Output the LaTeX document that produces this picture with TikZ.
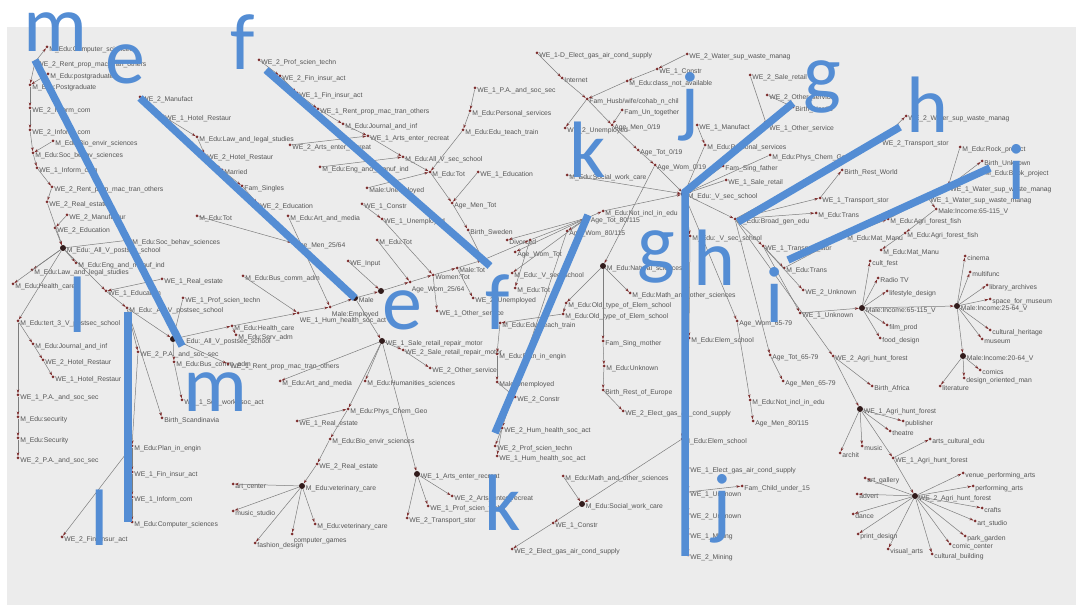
\documentclass[tikz,border=0pt]{standalone}
\usepackage{fontspec}
\setmainfont{Liberation Sans}
\newfontfamily\lettfont{Carlito}
\usetikzlibrary{arrows.meta, positioning}
\definecolor{bggray}{RGB}{236,236,236}
\definecolor{edgegray}{RGB}{125,125,125}
\definecolor{dotred}{RGB}{125,45,45}
\definecolor{hubdark}{RGB}{50,28,28}
\definecolor{labelgray}{RGB}{85,85,85}
\definecolor{markblue}{RGB}{84,141,212}
\begin{document}
\catcode`\_=12
\begin{tikzpicture}[x=1pt, y=-1pt,
  dot/.style={circle, fill=dotred, inner sep=0pt, minimum size=3pt},
  hub/.style={circle, fill=hubdark, inner sep=0pt, minimum size=6pt},
  lbl/.style={font=\fontsize{6.8}{8}\selectfont, text=labelgray, inner sep=0.5pt, yshift=-2.5pt},
  nd/.style={dot, label={[lbl]right:#1}},
  ndb/.style={dot, label={[lbl, anchor=north west]south east:#1}},
  hb/.style={hub, label={[lbl]right:#1}},
  edge/.style={draw=edgegray, line width=0.5pt, -{Stealth[length=4pt, width=2.6pt, color=dotred]}},
  stroke/.style={draw=markblue, line width=7.5pt},
  letter/.style={font=\lettfont\fontsize{80}{80}\selectfont, text=markblue, inner sep=0pt, anchor=base}
]
\useasboundingbox (0,0) rectangle (1080,609);
\fill[white] (0,0) rectangle (1080,609);
\fill[bggray] (7,27) rectangle (1076,605);

% left column
\node[nd={M_Edu:Computer_sciences}] (a1) at (47,47) {};
\node[nd={WE_2_Rent_prop_mac_tran_others}] (a2) at (35,62) {};
\node[nd={M_Edu:postgraduate}] (a3) at (48,74) {};
\node[nd={M_Edu:Postgraduate}] (a4) at (30,85) {};
\node[nd={WE_2_Inform_com}] (a5) at (30,108) {};
\node[nd={WE_2_Inform_com}] (a6) at (30,130) {};
\node[nd={M_Edu:Bio_envir_sciences}] (a7) at (53,141) {};
\node[nd={M_Edu:Soc_behav_sciences}] (a8) at (33,153) {};
\node[nd={WE_1_Inform_com}] (a9) at (37,168) {};
\node[nd={WE_2_Rent_prop_mac_tran_others}] (a10) at (52,187) {};
\node[nd={WE_2_Real_estate}] (a11) at (47,202) {};
\node[nd={WE_2_Manufactur}] (a12) at (67,215) {};
\node[nd={WE_2_Education}] (a13) at (55,228) {};
\node[hb={M_Edu:_All_V_postsec_school}] (h1) at (63,248) {};
\node[nd={M_Edu:Soc_behav_sciences}] (a14) at (130,240) {};
\node[nd={M_Edu:Eng_and_manuf_ind}] (a15) at (76,263) {};
\node[nd={M_Edu:Law_and_legal_studies}] (a16) at (32,270) {};
\node[nd={M_Edu:Health_care}] (a17) at (13,284) {};
\node[nd={M_Edu:tert_3_V_postsec_school}] (a18) at (18,321) {};
\node[nd={WE_1_Education}] (a19) at (106,291) {};
\node[nd={M_Edu:_All_V_postsec_school}] (a20) at (127,308) {};
\node[nd={WE_1_Real_estate}] (a21) at (162,279) {};
\node[nd={WE_1_Prof_scien_techn}] (a22) at (183,298) {};
\node[hb={M_Edu:_All_V_postsec_school}] (h2) at (173,339) {};
\node[nd={WE_2_P.A._and_soc_sec}] (a23) at (138,352) {};
\node[nd={M_Edu:Journal_and_inf}] (a30) at (33,344) {};
\node[nd={WE_2_Hotel_Restaur}] (a31) at (43,360) {};
\node[nd={WE_1_Hotel_Restaur}] (a32) at (53,377) {};
\node[nd={WE_1_P.A._and_soc_sec}] (a33) at (18,395) {};
\node[nd={M_Edu:security}] (a34) at (18,417) {};
\node[nd={M_Edu:Security}] (a35) at (18,438) {};
\node[nd={WE_2_P.A._and_soc_sec}] (a36) at (18,458) {};
\node[nd={M_Edu:Plan_in_engin}] (a24) at (132,446) {};
\node[nd={WE_1_Fin_insur_act}] (a25) at (132,472) {};
\node[nd={WE_1_Inform_com}] (a26) at (132,497) {};
\node[nd={M_Edu:Computer_sciences}] (a27) at (132,522) {};
\node[nd={WE_2_Fin_insur_act}] (a28) at (62,537) {};
\node[nd={Birth_Scandinavia}] (a29) at (162,418) {};
\node[nd={M_Edu:Bus_comm_adm}] (a37) at (174,362) {};
\node[nd={WE_1_Soc_work_soc_act}] (a38) at (182,400) {};
\node[nd={WE_1_Rent_prop_mac_tran_others}] (a39) at (228,364) {};

% e and f chains
\node[nd={WE_2_Manufact}] (e1) at (140,97) {};
\node[nd={WE_1_Hotel_Restaur}] (e2) at (163,116) {};
\node[nd={M_Edu:Law_and_legal_studies}] (e3) at (197,137) {};
\node[nd={WE_2_Hotel_Restaur}] (e4) at (205,155) {};
\node[nd={Married}] (e5) at (222,170) {};
\node[nd={Fam_Singles}] (e6) at (242,186) {};
\node[nd={WE_2_Education}] (e7) at (258,204) {};
\node[nd={M_Edu:Art_and_media}] (e8) at (288,216) {};
\node[nd={Age_Men_25/64}] (e9) at (293,243) {};
\node[nd={M_Edu:Tot}] (e10) at (197,216) {};
\node[nd={M_Edu:Bus_comm_adm}] (e11) at (243,276) {};
\node[nd={WE_2_Prof_scien_techn}] (f1) at (259,60) {};
\node[nd={WE_2_Fin_insur_act}] (f2) at (280,76) {};
\node[nd={WE_1_Fin_insur_act}] (f3) at (297,93) {};
\node[nd={WE_1_Rent_prop_mac_tran_others}] (f4) at (318,109) {};
\node[nd={M_Edu:Journal_and_inf}] (f5) at (343,124) {};
\node[nd={WE_1_Arts_enter_recreat}] (f6) at (368,136) {};
\node[nd={M_Edu:All_V_sec_school}] (f7) at (403,157) {};
\node[nd={M_Edu:Tot}] (f8) at (430,172) {};
\node[nd={Age_Men_Tot}] (f9) at (452,203) {};
\node[nd={Birth_Sweden}] (f10) at (468,230) {};
\node[nd={WE_2_Arts_enter_recreat}] (f11) at (290,145) {};
\node[nd={M_Edu:Eng_and_manuf_ind}] (f12) at (320,167) {};
\node[nd={Male:Unemployed}] (f13) at (367,188) {};
\node[nd={WE_1_Education}] (f14) at (478,172) {};
\node[nd={WE_1_P.A._and_soc_sec}] (f15) at (475,88) {};
\node[nd={M_Edu:Personal_services}] (f16) at (470,111) {};
\node[nd={M_Edu:Edu_teach_train}] (f17) at (463,130) {};
\node[nd={WE_1_Constr}] (f18) at (362,204) {};
\node[nd={WE_1_Unemployed}] (f19) at (382,219) {};
\node[nd={M_Edu:Tot}] (f20) at (377,240) {};
\node[nd={WE_Input}] (f21) at (348,261) {};

% backbone
\node[nd={M_Edu:Health_care}] (s1) at (232,326) {};
\node[nd={M_Edu:Serv_adm}] (s2) at (236,335) {};
\node[ndb={WE_1_Hum_health_soc_act}] (b1) at (298,313) {};
\node[ndb={Male:Employed}] (b2) at (330,307) {};
\node[hb={Male}] (b3) at (355,298) {};
\node[hub] (b4) at (381,291) {};
\node[ndb={Age_Wom_25/64}] (b5) at (410,282) {};
\node[nd={Women:Tot}] (b6) at (433,275) {};
\node[nd={Male:Tot}] (b7) at (457,268) {};
\node[dot] (b8) at (483,260) {};
\node[dot] (b9) at (530,240) {};
\node[hb={Age_Tot_80/115}] (b11) at (587,218) {};
\node[nd={M_Edu:Not_incl_in_edu}] (b12) at (603,211) {};
\node[hb={M_Edu:_V_sec_school}] (ctr) at (684,194) {};
\node[nd={Divorced}] (d1) at (507,240) {};
\node[nd={Age_Wom_Tot}] (d2) at (515,252) {};
\node[nd={M_Edu:_V_sec_school}] (d4) at (512,273) {};
\node[nd={M_Edu:Tot}] (d5) at (515,288) {};
\node[nd={WE_2_Unemployed}] (d6) at (473,298) {};
\node[nd={WE_1_Other_service}] (d7) at (437,311) {};
\node[nd={Age_Wom_80/115}] (d9) at (567,231) {};

% lower middle
\node[hb={WE_1_Sale_retail_repair_motor}] (hs) at (382,341) {};
\node[nd={WE_2_Sale_retail_repair_motor}] (s3) at (403,350) {};
\node[nd={WE_2_Other_service}] (s4) at (430,368) {};
\node[nd={M_Edu:Humanities_sciences}] (s5) at (365,381) {};
\node[nd={M_Edu:Art_and_media}] (s6) at (280,381) {};
\node[nd={M_Edu:Phys_Chem_Geo}] (v1) at (348,409) {};
\node[nd={WE_1_Real_estate}] (v2) at (297,421) {};
\node[nd={M_Edu:Bio_envir_sciences}] (v3) at (330,439) {};
\node[nd={WE_2_Real_estate}] (v4) at (317,464) {};
\node[hb={M_Edu:veterinary_care}] (hv) at (302,486) {};
\node[nd={art_center}] (v5) at (233,484) {};
\node[nd={music_studio}] (v6) at (233,511) {};
\node[nd={fashion_design}] (v7) at (255,543) {};
\node[ndb={computer_games}] (v8) at (292,534) {};
\node[nd={M_Edu:veterinary_care}] (v9) at (315,524) {};
\node[hb={WE_1_Arts_enter_recreat}] (ha) at (417,474) {};
\node[nd={WE_2_Arts_enter_recreat}] (v10) at (452,496) {};
\node[nd={WE_1_Prof_scien_techn}] (v11) at (428,506) {};
\node[nd={WE_2_Transport_stor}] (v12) at (407,518) {};

% k and g
\node[nd={M_Edu:Edu_teach_train}] (k2) at (500,323) {};
\node[nd={M_Edu:Plan_in_engin}] (k3) at (497,354) {};
\node[nd={Male:Unemployed}] (k4) at (497,382) {};
\node[nd={WE_2_Constr}] (k5) at (515,397) {};
\node[nd={WE_2_Hum_health_soc_act}] (k6) at (502,428) {};
\node[nd={WE_2_Prof_scien_techn}] (k7) at (495,446) {};
\node[nd={WE_1_Hum_health_soc_act}] (k8) at (497,456) {};
\node[hb={M_Edu:Natural_sciences}] (g1) at (603,266) {};
\node[nd={M_Edu:Old_type_of_Elem_school}] (g2) at (566,303) {};
\node[nd={M_Edu:Old_type_of_Elem_school}] (g3) at (563,314) {};
\node[nd={M_Edu:Math_and_other_sciences}] (g4) at (630,293) {};
\node[nd={Fam_Sing_mother}] (g5) at (603,341) {};
\node[nd={M_Edu:Unknown}] (g6) at (604,366) {};
\node[nd={Birth_Rest_of_Europe}] (g7) at (603,390) {};

% bottom middle
\node[nd={WE_2_Elect_gas_air_cond_supply}] (m1) at (623,411) {};
\node[nd={M_Edu:Elem_school}] (m2) at (682,439) {};
\node[hb={M_Edu:Social_work_care}] (m3) at (582,504) {};
\node[nd={M_Edu:Math_and_other_sciences}] (m4) at (563,476) {};
\node[nd={WE_1_Constr}] (m5) at (553,523) {};
\node[nd={WE_2_Elect_gas_air_cond_supply}] (m6) at (512,549) {};
\node[nd={M_Edu:_V_sec_school}] (j1) at (690,236) {};
\node[nd={M_Edu:Elem_school}] (j2) at (689,338) {};
\node[nd={WE_1_Elect_gas_air_cond_supply}] (j3) at (688,468) {};
\node[nd={WE_1_Unknown}] (j4) at (688,492) {};
\node[nd={WE_2_Unknown}] (j5) at (688,514) {};
\node[nd={WE_1_Mining}] (j6) at (688,534) {};
\node[nd={WE_2_Mining}] (j7) at (688,555) {};
\node[nd={Fam_Child_under_15}] (j8) at (742,486) {};

% top middle
\node[nd={WE_1-D_Elect_gas_air_cond_supply}] (c1) at (537,53) {};
\node[nd={Internet}] (c2) at (562,78) {};
\node[nd={Fam_Husb/wife/cohab_n_chil}] (c3) at (587,99) {};
\node[nd={Fam_Un_together}] (c4) at (622,110) {};
\node[nd={Age_Men_0/19}] (c5) at (612,125) {};
\node[nd={Age_Tot_0/19}] (c6) at (638,150) {};
\node[nd={Age_Wom_0/19}] (c7) at (655,165) {};
\node[nd={WE_2_Water_sup_waste_manag}] (c8) at (687,54) {};
\node[nd={WE_1_Constr}] (c9) at (657,69) {};
\node[nd={M_Edu:class_not_available}] (c10) at (627,81) {};
\node[nd={WE_2_Unemployed}] (c11) at (565,128) {};
\node[nd={M_Edu:Social_work_care}] (c12) at (567,175) {};
\node[nd={WE_1_Manufact}] (c13) at (697,125) {};
\node[nd={M_Edu:Personal_services}] (c14) at (705,145) {};
\node[nd={Fam_Sing_father}] (c15) at (723,166) {};
\node[nd={M_Edu:Phys_Chem_Geo}] (c16) at (770,155) {};
\node[nd={WE_1_Sale_retail}] (c17) at (726,180) {};
\node[nd={WE_2_Sale_retail}] (gA) at (750,75) {};
\node[nd={WE_2_Other_service}] (gB) at (767,95) {};
\node[nd={Birth_Nordic}] (gC) at (793,107) {};
\node[nd={WE_1_Other_service}] (gD) at (767,126) {};

% right
\node[nd={M_Edu:Broad_gen_edu}] (x1) at (735,219) {};
\node[nd={WE_1_Transport_stor}] (x2) at (763,246) {};
\node[nd={M_Edu:Trans}] (x3) at (784,268) {};
\node[nd={WE_2_Water_sup_waste_manag}] (t1) at (906,116) {};
\node[nd={WE_2_Transport_stor}] (t2) at (880,141) {};
\node[nd={Birth_Rest_World}] (t3) at (842,170) {};
\node[nd={WE_1_Transport_stor}] (t4) at (820,198) {};
\node[nd={M_Edu:Rock_project}] (i2) at (960,147) {};
\node[nd={Birth_Unknown}] (iA) at (982,161) {};
\node[nd={M_Edu:Book_project}] (iB) at (983,171) {};
\node[nd={WE_1_Water_sup_waste_manag}] (iC) at (948,187) {};
\node[nd={WE_1_Water_sup_waste_manag}] (iD) at (928,198) {};
\node[nd={Male:Income:65-115_V}] (iE) at (936,209) {};
\node[nd={M_Edu:Agri_forest_fish}] (iF) at (888,219) {};
\node[nd={M_Edu:Agri_forest_fish}] (iG) at (905,233) {};
\node[nd={M_Edu:Mat_Manu}] (iH) at (845,236) {};
\node[nd={M_Edu:Mat_Manu}] (iI) at (881,250) {};
\node[nd={M_Edu:Trans}] (iJ) at (816,213) {};
\node[nd={Age_Wom_65-79}] (r1) at (737,321) {};
\node[nd={Age_Tot_65-79}] (r2) at (770,355) {};
\node[nd={Age_Men_65-79}] (r3) at (783,381) {};
\node[nd={M_Edu:Not_incl_in_edu}] (r4) at (750,400) {};
\node[nd={Age_Men_80/115}] (r5) at (753,421) {};
\node[nd={WE_2_Unknown}] (u6) at (803,290) {};
\node[nd={WE_1_Unknown}] (u7) at (800,313) {};
\node[hb={Male:Income:65-115_V}] (u0) at (862,308) {};
\node[nd={cult_fest}] (u1) at (870,261) {};
\node[nd={Radio TV}] (u2) at (878,278) {};
\node[nd={lifestyle_design}] (u3) at (887,291) {};
\node[nd={film_prod}] (u4) at (887,325) {};
\node[nd={food_design}] (u5) at (880,338) {};
\node[hb={Male:Income:25-64_V}] (u8) at (957,306) {};
\node[nd={cinema}] (u9) at (965,256) {};
\node[nd={multifunc}] (u10) at (970,272) {};
\node[nd={library_archives}] (u11) at (987,285) {};
\node[nd={space_for_museum}] (u12) at (990,299) {};
\node[nd={cultural_heritage}] (u13) at (990,330) {};
\node[nd={museum}] (u14) at (982,339) {};
\node[hb={Male:Income:20-64_V}] (u15) at (963,356) {};
\node[nd={comics}] (u16) at (980,370) {};
\node[nd={design_oriented_man}] (u17) at (964,378) {};
\node[nd={literature}] (u18) at (940,386) {};
\node[nd={WE_2_Agri_hunt_forest}] (u19) at (833,356) {};
\node[nd={Birth_Africa}] (u20) at (872,386) {};
\node[hb={WE_1_Agri_hunt_forest}] (w1) at (860,409) {};
\node[nd={publisher}] (w2) at (903,421) {};
\node[nd={theatre}] (w3) at (890,431) {};
\node[nd={arts_cultural_edu}] (w4) at (930,439) {};
\node[nd={music}] (w5) at (862,446) {};
\node[nd={archit}] (w6) at (840,453) {};
\node[nd={WE_1_Agri_hunt_forest}] (w7) at (893,458) {};
\node[hb={WE_2_Agri_hunt_forest}] (w0) at (915,496) {};
\node[nd={art_gallery}] (w8) at (865,478) {};
\node[nd={venue_performing_arts}] (w9) at (963,473) {};
\node[nd={performing_arts}] (w10) at (973,486) {};
\node[nd={crafts}] (w11) at (982,508) {};
\node[nd={art_studio}] (w12) at (975,521) {};
\node[nd={park_garden}] (w13) at (965,536) {};
\node[nd={comic_center}] (w14) at (950,544) {};
\node[nd={cultural_building}] (w15) at (932,554) {};
\node[nd={visual_arts}] (w16) at (888,549) {};
\node[nd={print_design}] (w17) at (858,534) {};
\node[nd={dance}] (w18) at (853,514) {};
\node[nd={advert}] (w19) at (857,494) {};

% connectors
\draw[edge] (a2) -- (a1);
\draw[edge] (a2) -- (a4);
\draw[edge] (a3) -- (a4);
\draw[edge] (a4) -- (a5);
\draw[edge] (a5) -- (a6);
\draw[edge] (a6) -- (a8);
\draw[edge] (a7) -- (a8);
\draw[edge] (a8) -- (a9);
\draw[edge] (a9) -- (a10);
\draw[edge] (a10) -- (a11);
\draw[edge] (a11) -- (h1);
\draw[edge] (a12) -- (a13);
\draw[edge] (a13) -- (h1);
\draw[edge] (h1) -- (a14);
\draw[edge] (h1) -- (a15);
\draw[edge] (h1) -- (a16);
\draw[edge] (h1) -- (a17);
\draw[edge] (h1) -- (a18);
\draw[edge] (h1) -- (a19);
\draw[edge] (a19) -- (a20);
\draw[edge] (a21) -- (a19);
\draw[edge] (a20) -- (h2);
\draw[edge] (a22) -- (h2);
\draw[edge] (a20) -- (a23);
\draw[edge] (a23) -- (a24);
\draw[edge] (a24) -- (a25);
\draw[edge] (a25) -- (a26);
\draw[edge] (a26) -- (a27);
\draw[edge] (a24) -- (a28);
\draw[edge] (a20) -- (a29);
\draw[edge] (a18) -- (a30);
\draw[edge] (a30) -- (a31);
\draw[edge] (a31) -- (a32);
\draw[edge] (a18) -- (a33);
\draw[edge] (a33) -- (a34);
\draw[edge] (a34) -- (a35);
\draw[edge] (a35) -- (a36);
\draw[edge] (h2) -- (a37);
\draw[edge] (a37) -- (a38);
\draw[edge] (h2) -- (a39);
\draw[edge] (e1) -- (e2);
\draw[edge] (e2) -- (e3);
\draw[edge] (e3) -- (e4);
\draw[edge] (e4) -- (e5);
\draw[edge] (e5) -- (e6);
\draw[edge] (e6) -- (e7);
\draw[edge] (e7) -- (e9);
\draw[edge] (e9) -- (b3);
\draw[edge] (e10) -- (e9);
\draw[edge] (e8) -- (b2);
\draw[edge] (e11) -- (b1);
\draw[edge] (f1) -- (f2);
\draw[edge] (f2) -- (f3);
\draw[edge] (f3) -- (f4);
\draw[edge] (f4) -- (f5);
\draw[edge] (f5) -- (f6);
\draw[edge] (f6) -- (f7);
\draw[edge] (f7) -- (f8);
\draw[edge] (f8) -- (f9);
\draw[edge] (f9) -- (f10);
\draw[edge] (f10) -- (b8);
\draw[edge] (f11) -- (f6);
\draw[edge] (f12) -- (f7);
\draw[edge] (f13) -- (f8);
\draw[edge] (f14) -- (f9);
\draw[edge] (f15) -- (f16);
\draw[edge] (f16) -- (f17);
\draw[edge] (f17) -- (f8);
\draw[edge] (f18) -- (f19);
\draw[edge] (f19) -- (b6);
\draw[edge] (f20) -- (b5);
\draw[edge] (f21) -- (b4);
\draw[edge] (h2) -- (s1);
\draw[edge] (s1) -- (s2);
\draw[edge] (s1) -- (b1);
\draw[edge] (b1) -- (b2);
\draw[edge] (b2) -- (b3);
\draw[edge] (b3) -- (b4);
\draw[edge] (b4) -- (b5);
\draw[edge] (b5) -- (b6);
\draw[edge] (b6) -- (b7);
\draw[edge] (b7) -- (b8);
\draw[edge] (b8) -- (b9);
\draw[edge] (b9) -- (b11);
\draw[edge] (b11) -- (b12);
\draw[edge] (b12) -- (ctr);
\draw[edge] (b11) -- (d1);
\draw[edge] (b11) -- (d2);
\draw[edge] (b11) -- (d4);
\draw[edge] (b9) -- (d5);
\draw[edge] (b7) -- (d6);
\draw[edge] (b6) -- (d7);
\draw[edge] (b11) -- (d9);
\draw[edge] (d9) -- (k6);
\draw[edge] (k6) -- (k7);
\draw[edge] (k6) -- (k8);
\draw[edge] (b3) -- (hs);
\draw[edge] (hs) -- (s3);
\draw[edge] (s3) -- (s4);
\draw[edge] (hs) -- (s5);
\draw[edge] (hs) -- (s6);
\draw[edge] (hs) -- (v1);
\draw[edge] (v2) -- (v1);
\draw[edge] (v1) -- (v3);
\draw[edge] (v3) -- (v4);
\draw[edge] (v4) -- (hv);
\draw[edge] (hv) -- (v5);
\draw[edge] (hv) -- (v6);
\draw[edge] (hv) -- (v7);
\draw[edge] (hv) -- (v8);
\draw[edge] (hv) -- (v9);
\draw[edge] (hs) -- (ha);
\draw[edge] (ha) -- (v10);
\draw[edge] (ha) -- (v11);
\draw[edge] (ha) -- (v12);
\draw[edge] (c7) -- (g1);
\draw[edge] (g1) -- (g2);
\draw[edge] (g2) -- (g3);
\draw[edge] (g3) -- (k2);
\draw[edge] (k2) -- (k3);
\draw[edge] (k3) -- (k4);
\draw[edge] (k4) -- (k5);
\draw[edge] (g1) -- (g4);
\draw[edge] (g1) -- (g5);
\draw[edge] (g5) -- (g6);
\draw[edge] (g6) -- (g7);
\draw[edge] (g7) -- (m1);
\draw[edge] (ctr) -- (j1);
\draw[edge] (j1) -- (j2);
\draw[edge] (j2) -- (m2);
\draw[edge] (m2) -- (j3);
\draw[edge] (j3) -- (j4);
\draw[edge] (j4) -- (j5);
\draw[edge] (j5) -- (j6);
\draw[edge] (j6) -- (j7);
\draw[edge] (j4) -- (j8);
\draw[edge] (m2) -- (m3);
\draw[edge] (m4) -- (m3);
\draw[edge] (m3) -- (m5);
\draw[edge] (m5) -- (m6);
\draw[edge] (c1) -- (c2);
\draw[edge] (c2) -- (c3);
\draw[edge] (c3) -- (c5);
\draw[edge] (c4) -- (c5);
\draw[edge] (c5) -- (c6);
\draw[edge] (c6) -- (c7);
\draw[edge] (c7) -- (ctr);
\draw[edge] (c8) -- (c9);
\draw[edge] (c9) -- (c10);
\draw[edge] (c10) -- (c3);
\draw[edge] (c3) -- (c11);
\draw[edge] (c12) -- (ctr);
\draw[edge] (c13) -- (c14);
\draw[edge] (c14) -- (ctr);
\draw[edge] (c15) -- (ctr);
\draw[edge] (c16) -- (ctr);
\draw[edge] (c17) -- (ctr);
\draw[edge] (gA) -- (gD);
\draw[edge] (gB) -- (gC);
\draw[edge] (gC) -- (ctr);
\draw[edge] (ctr) -- (x1);
\draw[edge] (x1) -- (x2);
\draw[edge] (x2) -- (x3);
\draw[edge] (x1) -- (t2);
\draw[edge] (t2) -- (t1);
\draw[edge] (x1) -- (t4);
\draw[edge] (t4) -- (t3);
\draw[edge] (x1) -- (iJ);
\draw[edge] (x3) -- (iH);
\draw[edge] (iH) -- (iF);
\draw[edge] (iF) -- (iD);
\draw[edge] (iD) -- (iC);
\draw[edge] (iC) -- (iA);
\draw[edge] (iC) -- (iB);
\draw[edge] (i2) -- (iC);
\draw[edge] (iD) -- (iE);
\draw[edge] (iE) -- (iG);
\draw[edge] (iG) -- (iI);
\draw[edge] (ctr) -- (r1);
\draw[edge] (r1) -- (r4);
\draw[edge] (r4) -- (r5);
\draw[edge] (x1) -- (r2);
\draw[edge] (r2) -- (r3);
\draw[edge] (x1) -- (u19);
\draw[edge] (u19) -- (w1);
\draw[edge] (u19) -- (u20);
\draw[edge] (x2) -- (u6);
\draw[edge] (x2) -- (u7);
\draw[edge] (u7) -- (u0);
\draw[edge] (u0) -- (u1);
\draw[edge] (u0) -- (u2);
\draw[edge] (u0) -- (u3);
\draw[edge] (u0) -- (u4);
\draw[edge] (u0) -- (u5);
\draw[edge] (u0) -- (u8);
\draw[edge] (u8) -- (u9);
\draw[edge] (u8) -- (u10);
\draw[edge] (u8) -- (u11);
\draw[edge] (u8) -- (u12);
\draw[edge] (u8) -- (u13);
\draw[edge] (u8) -- (u14);
\draw[edge] (u8) -- (u15);
\draw[edge] (u15) -- (u16);
\draw[edge] (u15) -- (u17);
\draw[edge] (u15) -- (u18);
\draw[edge] (w1) -- (w2);
\draw[edge] (w1) -- (w3);
\draw[edge] (w1) -- (w5);
\draw[edge] (w1) -- (w6);
\draw[edge] (w1) -- (w7);
\draw[edge] (w7) -- (w4);
\draw[edge] (w7) -- (w0);
\draw[edge] (w0) -- (w8);
\draw[edge] (w0) -- (w9);
\draw[edge] (w0) -- (w10);
\draw[edge] (w0) -- (w11);
\draw[edge] (w0) -- (w12);
\draw[edge] (w0) -- (w13);
\draw[edge] (w0) -- (w14);
\draw[edge] (w0) -- (w15);
\draw[edge] (w0) -- (w16);
\draw[edge] (w0) -- (w17);
\draw[edge] (w0) -- (w18);
\draw[edge] (w0) -- (w19);

% blue marks
\coordinate (mtop) at (35,60);
\coordinate (mend) at (182,346);
\coordinate (etop) at (140,98);
\coordinate (eend) at (355,298);
\coordinate (ftop) at (266,70);
\coordinate (fend) at (490,266);
\coordinate (ktop) at (588,215);
\coordinate (kend) at (495,433);
\coordinate (jtop) at (685,192);
\coordinate (jend) at (685,556);
\coordinate (gtop) at (793,103);
\coordinate (htop) at (900,127);
\coordinate (hend) at (738,222);
\coordinate (itop) at (990,168);
\coordinate (iend) at (788,260);
\coordinate (ltop) at (128,312);
\coordinate (lend) at (128,522);
\draw[stroke] (mtop) -- (mend);
\draw[stroke] (etop) -- (eend);
\draw[stroke] (ftop) -- (fend);
\draw[stroke] (ktop) -- (kend);
\draw[stroke] (gtop) -- (jtop) -- (jend);
\draw[stroke] (htop) -- (hend);
\draw[stroke] (itop) -- (iend);
\draw[stroke] (ltop) -- (lend);

\node[letter] (lm) at (55,52) {m};
\node[letter] (le) at (125,84) {e};
\node[letter] (lf) at (243,70) {f};
\node[letter] (lk) at (588,178) {k};
\node[letter] (lj) at (690,128) {j};
\node[letter] (lg) at (822,100) {g};
\node[letter] (lh) at (928,133) {h};
\node[letter] (li) at (1017,200) {i};
\node[letter] (ll) at (78,333) {l};
\node[letter] (lm2) at (215,412) {m};
\node[letter] (le2) at (402,330) {e};
\node[letter] (lf2) at (498,330) {f};
\node[letter] (lk2) at (503,531) {k};
\node[letter] (ll2) at (100,546) {l};
\node[letter] (lj2) at (722,530) {j};
\node[letter] (lg2) at (656,270) {g};
\node[letter] (lh2) at (715,286) {h};
\node[letter] (li2) at (775,323) {i};
\end{tikzpicture}
\end{document}
